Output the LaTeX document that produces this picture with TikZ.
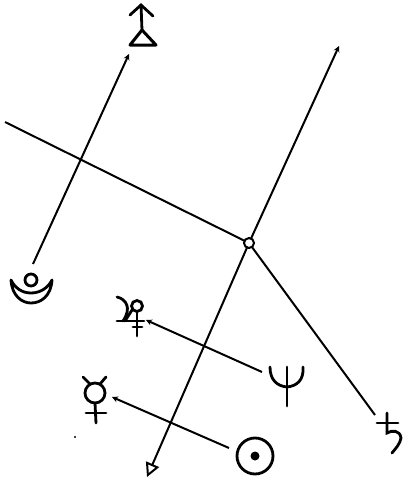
\documentclass[tikz,border=0pt]{standalone}
\usetikzlibrary{arrows.meta}
\tikzset{
    axis/.style={line width=2pt},
    glyph/.style={line width=2.8pt, line cap=round},
    tiptip/.style={-{Stealth[length=6pt,width=6pt]}},
}
\begin{document}
\begin{tikzpicture}[x=1pt,y=-1pt]
    \useasboundingbox (0,0) rectangle (403,483);

    % Ends of the lines
    \coordinate (hub) at (249,243);
    \coordinate (west) at (5,122);
    \coordinate (north) at (339,46);
    \coordinate (south) at (147,477);
    \coordinate (saturn) at (375,415);
    \coordinate (moonA) at (33,264);
    \coordinate (moonB) at (129,54);
    \coordinate (neptune) at (262,372);
    \coordinate (jupiter) at (146,320);
    \coordinate (sun) at (229,448);
    \coordinate (mercury) at (112,397);

    % Main lines
    \draw[axis] (west) -- (hub);
    \draw[axis] (hub) -- (saturn);
    \draw[axis, tiptip] (hub) -- (north);
    \draw[axis, -{Triangle[open,length=14pt,width=14pt,line width=2pt]}] (hub) -- (south);
    \fill[white] (hub) circle (5pt);
    \draw[axis] (hub) circle (5pt);

    % Short arrows
    \draw[axis, tiptip] (moonA) -- (moonB);
    \draw[axis, tiptip] (neptune) -- (jupiter);
    \draw[axis, tiptip] (sun) -- (mercury);

    % Top sign
    \draw[glyph] (130,15) -- (141,5) -- (153,16);
    \draw[glyph] (141,5) -- (142,30);
    \draw[glyph, line width=3pt, line join=round] (142,30) -- (156,45) -- (130,45) -- cycle;

    % Moon
    \draw[glyph] (31,280) circle (6pt);
    \draw[glyph, line join=round] (11,280) .. controls (12,296) and (22,303) .. (31,303)
        .. controls (41,303) and (51,296) .. (52,280)
        .. controls (48,288) and (40,293) .. (31,293)
        .. controls (22,293) and (15,288) .. (11,280) -- cycle;

    % Jupiter
    \draw[glyph] (137,306) circle (5.5pt);
    \draw[glyph] (117,297) .. controls (126,299) and (132,308) .. (123,321);
    \draw[glyph] (117,321) -- (144,321);
    \draw[glyph] (132,310) -- (125,321);
    \draw[glyph] (137,312) -- (137,336);
    \draw[glyph] (133,327) -- (142,327);

    % Mercury
    \draw[glyph] (95,393) circle (10pt);
    \draw[glyph] (83,377) -- (90,384);
    \draw[glyph] (106,377) -- (100,384);
    \draw[glyph] (95,403) -- (96,423);
    \draw[glyph] (86,413) -- (106,413);

    % Neptune
    \draw[glyph] (270,367) .. controls (270,380) and (277,386) .. (287,387)
        .. controls (297,386) and (304,380) .. (303,367);
    \draw[glyph] (287,367) -- (287,406);

    % Saturn
    \draw[glyph] (377,423) -- (398,423);
    \draw[glyph] (387,413) -- (387,433) .. controls (392,430) and (400,430) .. (401,438)
        .. controls (400,444) and (396,448) .. (392,453);

    % Sun
    \draw[glyph] (255,456) circle (18pt);
    \fill (255,456) circle (4.5pt);

    % Speck
    \fill (75,437) circle (1.2pt);
\end{tikzpicture}
\end{document}
